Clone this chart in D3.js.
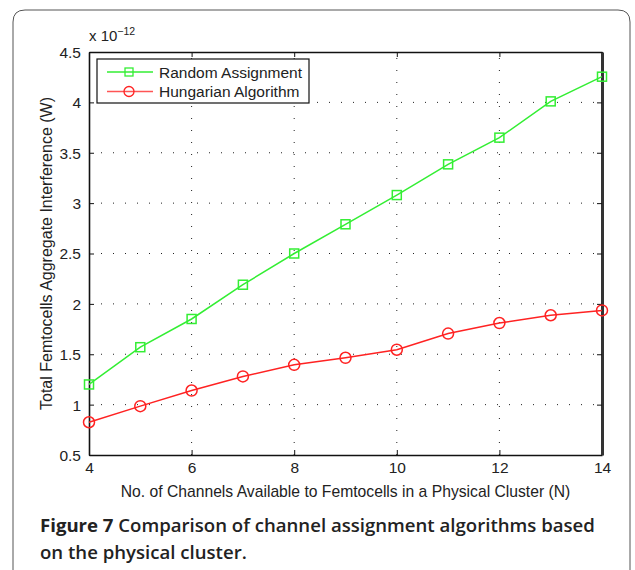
<!DOCTYPE html>
<html>
<head>
<meta charset="utf-8">
<script src="https://cdn.jsdelivr.net/npm/d3@7"></script>
<style>
  body { margin: 0; background: #fff; }
  svg text { font-family: "Liberation Sans", Arial, sans-serif; fill: #222; }
  .caption { font-family: "Open Sans", "Noto Sans", sans-serif; }
</style>
</head>
<body>
<div id="chart"></div>
<script>
// Data (values are in units of 1e-12 W)
var channels = [4, 5, 6, 7, 8, 9, 10, 11, 12, 13, 14];
var randomAssign = [1.20, 1.57, 1.85, 2.19, 2.50, 2.79, 3.08, 3.385, 3.65, 4.01, 4.255];
var hungarian = [0.825, 0.985, 1.14, 1.28, 1.395, 1.465, 1.545, 1.705, 1.81, 1.887, 1.935];
var xTicks = [4, 6, 8, 10, 12, 14];
var yTicks = [0.5, 1, 1.5, 2, 2.5, 3, 3.5, 4, 4.5];
var seriesNames = ["Random Assignment", "Hungarian Algorithm"];

var svgWidth = 635;
var svgHeight = 570;
var margin = { top: 52, right: 33, bottom: 115, left: 89 };
var width = svgWidth - margin.left - margin.right;
var height = svgHeight - margin.top - margin.bottom;

var svg = d3.select("#chart").append("svg")
    .attr("width", svgWidth)
    .attr("height", svgHeight);

// outer figure frame
svg.append("path")
    .attr("d", "M13,580 L13,22 Q13,10 25,10 L618,10 Q630,10 630,22 L630,580")
    .attr("fill", "none")
    .attr("stroke", "#555")
    .attr("stroke-width", 1);

var chart = svg.append("g")
    .attr("transform", "translate(" + margin.left + "," + margin.top + ")");

var x = d3.scaleLinear().domain([4, 14]).range([0, width]);
var y = d3.scaleLinear().domain([0.5, 4.5]).range([height, 0]);

// dotted grid
chart.selectAll(".vgrid")
    .data(xTicks.slice(1, -1))
    .enter().append("line")
    .attr("x1", function (d) { return x(d); })
    .attr("x2", function (d) { return x(d); })
    .attr("y1", height)
    .attr("y2", 0)
    .attr("stroke", "#222")
    .attr("stroke-width", 1)
    .attr("stroke-dasharray", "1,11");

chart.selectAll(".hgrid")
    .data(yTicks.slice(1, -1))
    .enter().append("line")
    .attr("x1", 0)
    .attr("x2", width)
    .attr("y1", function (d) { return y(d); })
    .attr("y2", function (d) { return y(d); })
    .attr("stroke", "#222")
    .attr("stroke-width", 1)
    .attr("stroke-dasharray", "1,11");

// axes (inward ticks, box on all sides)
var bottomAxis = d3.axisBottom(x).tickValues(xTicks).tickSizeInner(-5).tickSizeOuter(0).tickPadding(9).tickFormat(d3.format("d"));
var topAxis = d3.axisTop(x).tickValues(xTicks).tickSizeInner(-5).tickSizeOuter(0).tickFormat("");
var leftAxis = d3.axisLeft(y).tickValues(yTicks).tickSizeInner(-5).tickSizeOuter(0).tickPadding(8).tickFormat(d3.format("~g"));
var rightAxis = d3.axisRight(y).tickValues(yTicks).tickSizeInner(-5).tickSizeOuter(0).tickFormat("");

var gb = chart.append("g").attr("transform", "translate(0," + height + ")").call(bottomAxis);
var gt = chart.append("g").call(topAxis);
var gl = chart.append("g").call(leftAxis);
var gr = chart.append("g").attr("transform", "translate(" + width + ",0)").call(rightAxis);

[gb, gt, gl, gr].forEach(function (g) {
    g.select(".domain").attr("stroke", "#111").attr("stroke-width", 1.6);
    g.selectAll(".tick line").attr("stroke", "#111");
    g.selectAll("text").style("font-size", "15.5px").attr("fill", "#222");
});
gr.select(".domain").attr("stroke", "#333").attr("stroke-width", 3);
gb.selectAll("text").attr("dy", "0.55em");
gl.selectAll("text").attr("dy", "0.35em");

// exponent label
chart.append("text")
    .attr("x", 0)
    .attr("y", -11)
    .style("font-size", "15px")
    .text("x 10")
    .append("tspan")
    .attr("dy", -6)
    .style("font-size", "10.5px")
    .text("\u221212");

// lines
var line = function (vals) {
    return d3.line()
        .x(function (d, i) { return x(channels[i]); })
        .y(function (d) { return y(d); })(vals);
};

chart.append("path")
    .attr("d", line(randomAssign))
    .attr("fill", "none")
    .attr("stroke", "#33ee33")
    .attr("stroke-width", 1.5);

chart.append("path")
    .attr("d", line(hungarian))
    .attr("fill", "none")
    .attr("stroke", "#ff2222")
    .attr("stroke-width", 1.5);

chart.selectAll(".sq")
    .data(randomAssign)
    .enter().append("rect")
    .attr("x", function (d, i) { return x(channels[i]) - 4.5; })
    .attr("y", function (d) { return y(d) - 4.5; })
    .attr("width", 9)
    .attr("height", 9)
    .attr("fill", "none")
    .attr("stroke", "#33ee33")
    .attr("stroke-width", 1.5);

chart.selectAll(".circ")
    .data(hungarian)
    .enter().append("circle")
    .attr("cx", function (d, i) { return x(channels[i]); })
    .attr("cy", function (d) { return y(d); })
    .attr("r", 5.5)
    .attr("fill", "none")
    .attr("stroke", "#ff2222")
    .attr("stroke-width", 1.5);

// legend
var legend = chart.append("g").attr("transform", "translate(8,7)");
legend.append("rect")
    .attr("width", 212)
    .attr("height", 44)
    .attr("fill", "#fff")
    .attr("stroke", "#111")
    .attr("stroke-width", 1.2);

var legendColors = ["#33ee33", "#ff5555"];
seriesNames.forEach(function (name, i) {
    var ly = 13 + i * 19.5;
    legend.append("line")
        .attr("x1", 10).attr("x2", 56)
        .attr("y1", ly).attr("y2", ly)
        .attr("stroke", legendColors[i])
        .attr("stroke-width", 1.5);
    if (i === 0) {
        legend.append("rect")
            .attr("x", 28).attr("y", ly - 4).attr("width", 8).attr("height", 8)
            .attr("fill", "none").attr("stroke", legendColors[i]).attr("stroke-width", 1.3);
    } else {
        legend.append("circle")
            .attr("cx", 32).attr("cy", ly).attr("r", 5)
            .attr("fill", "none").attr("stroke", "#ff2222").attr("stroke-width", 1.3);
    }
    legend.append("text")
        .attr("x", 62)
        .attr("y", ly)
        .attr("dy", "0.36em")
        .style("font-size", "15.5px")
        .text(name);
});

// axis labels
chart.append("text")
    .attr("transform", "rotate(-90)")
    .attr("x", -height / 2)
    .attr("y", -37)
    .attr("text-anchor", "middle")
    .style("font-size", "16px")
    .text("Total Femtocells Aggregate Interference (W)");

chart.append("text")
    .attr("x", width / 2)
    .attr("y", height + 42)
    .attr("text-anchor", "middle")
    .style("font-size", "15.7px")
    .text("No. of Channels Available to Femtocells in a Physical Cluster (N)");

// caption
var cap = svg.append("text")
    .attr("class", "caption")
    .attr("x", 40)
    .attr("y", 532)
    .style("font-size", "18.6px")
    .style("font-weight", "600")
    .attr("fill", "#111");
cap.append("tspan").style("font-weight", "700").text("Figure 7");
cap.append("tspan").text(" Comparison of channel assignment algorithms based");

svg.append("text")
    .attr("class", "caption")
    .attr("x", 40)
    .attr("y", 559)
    .style("font-size", "18.6px")
    .style("font-weight", "600")
    .attr("fill", "#111")
    .text("on the physical cluster.");
</script>
</body>
</html>
